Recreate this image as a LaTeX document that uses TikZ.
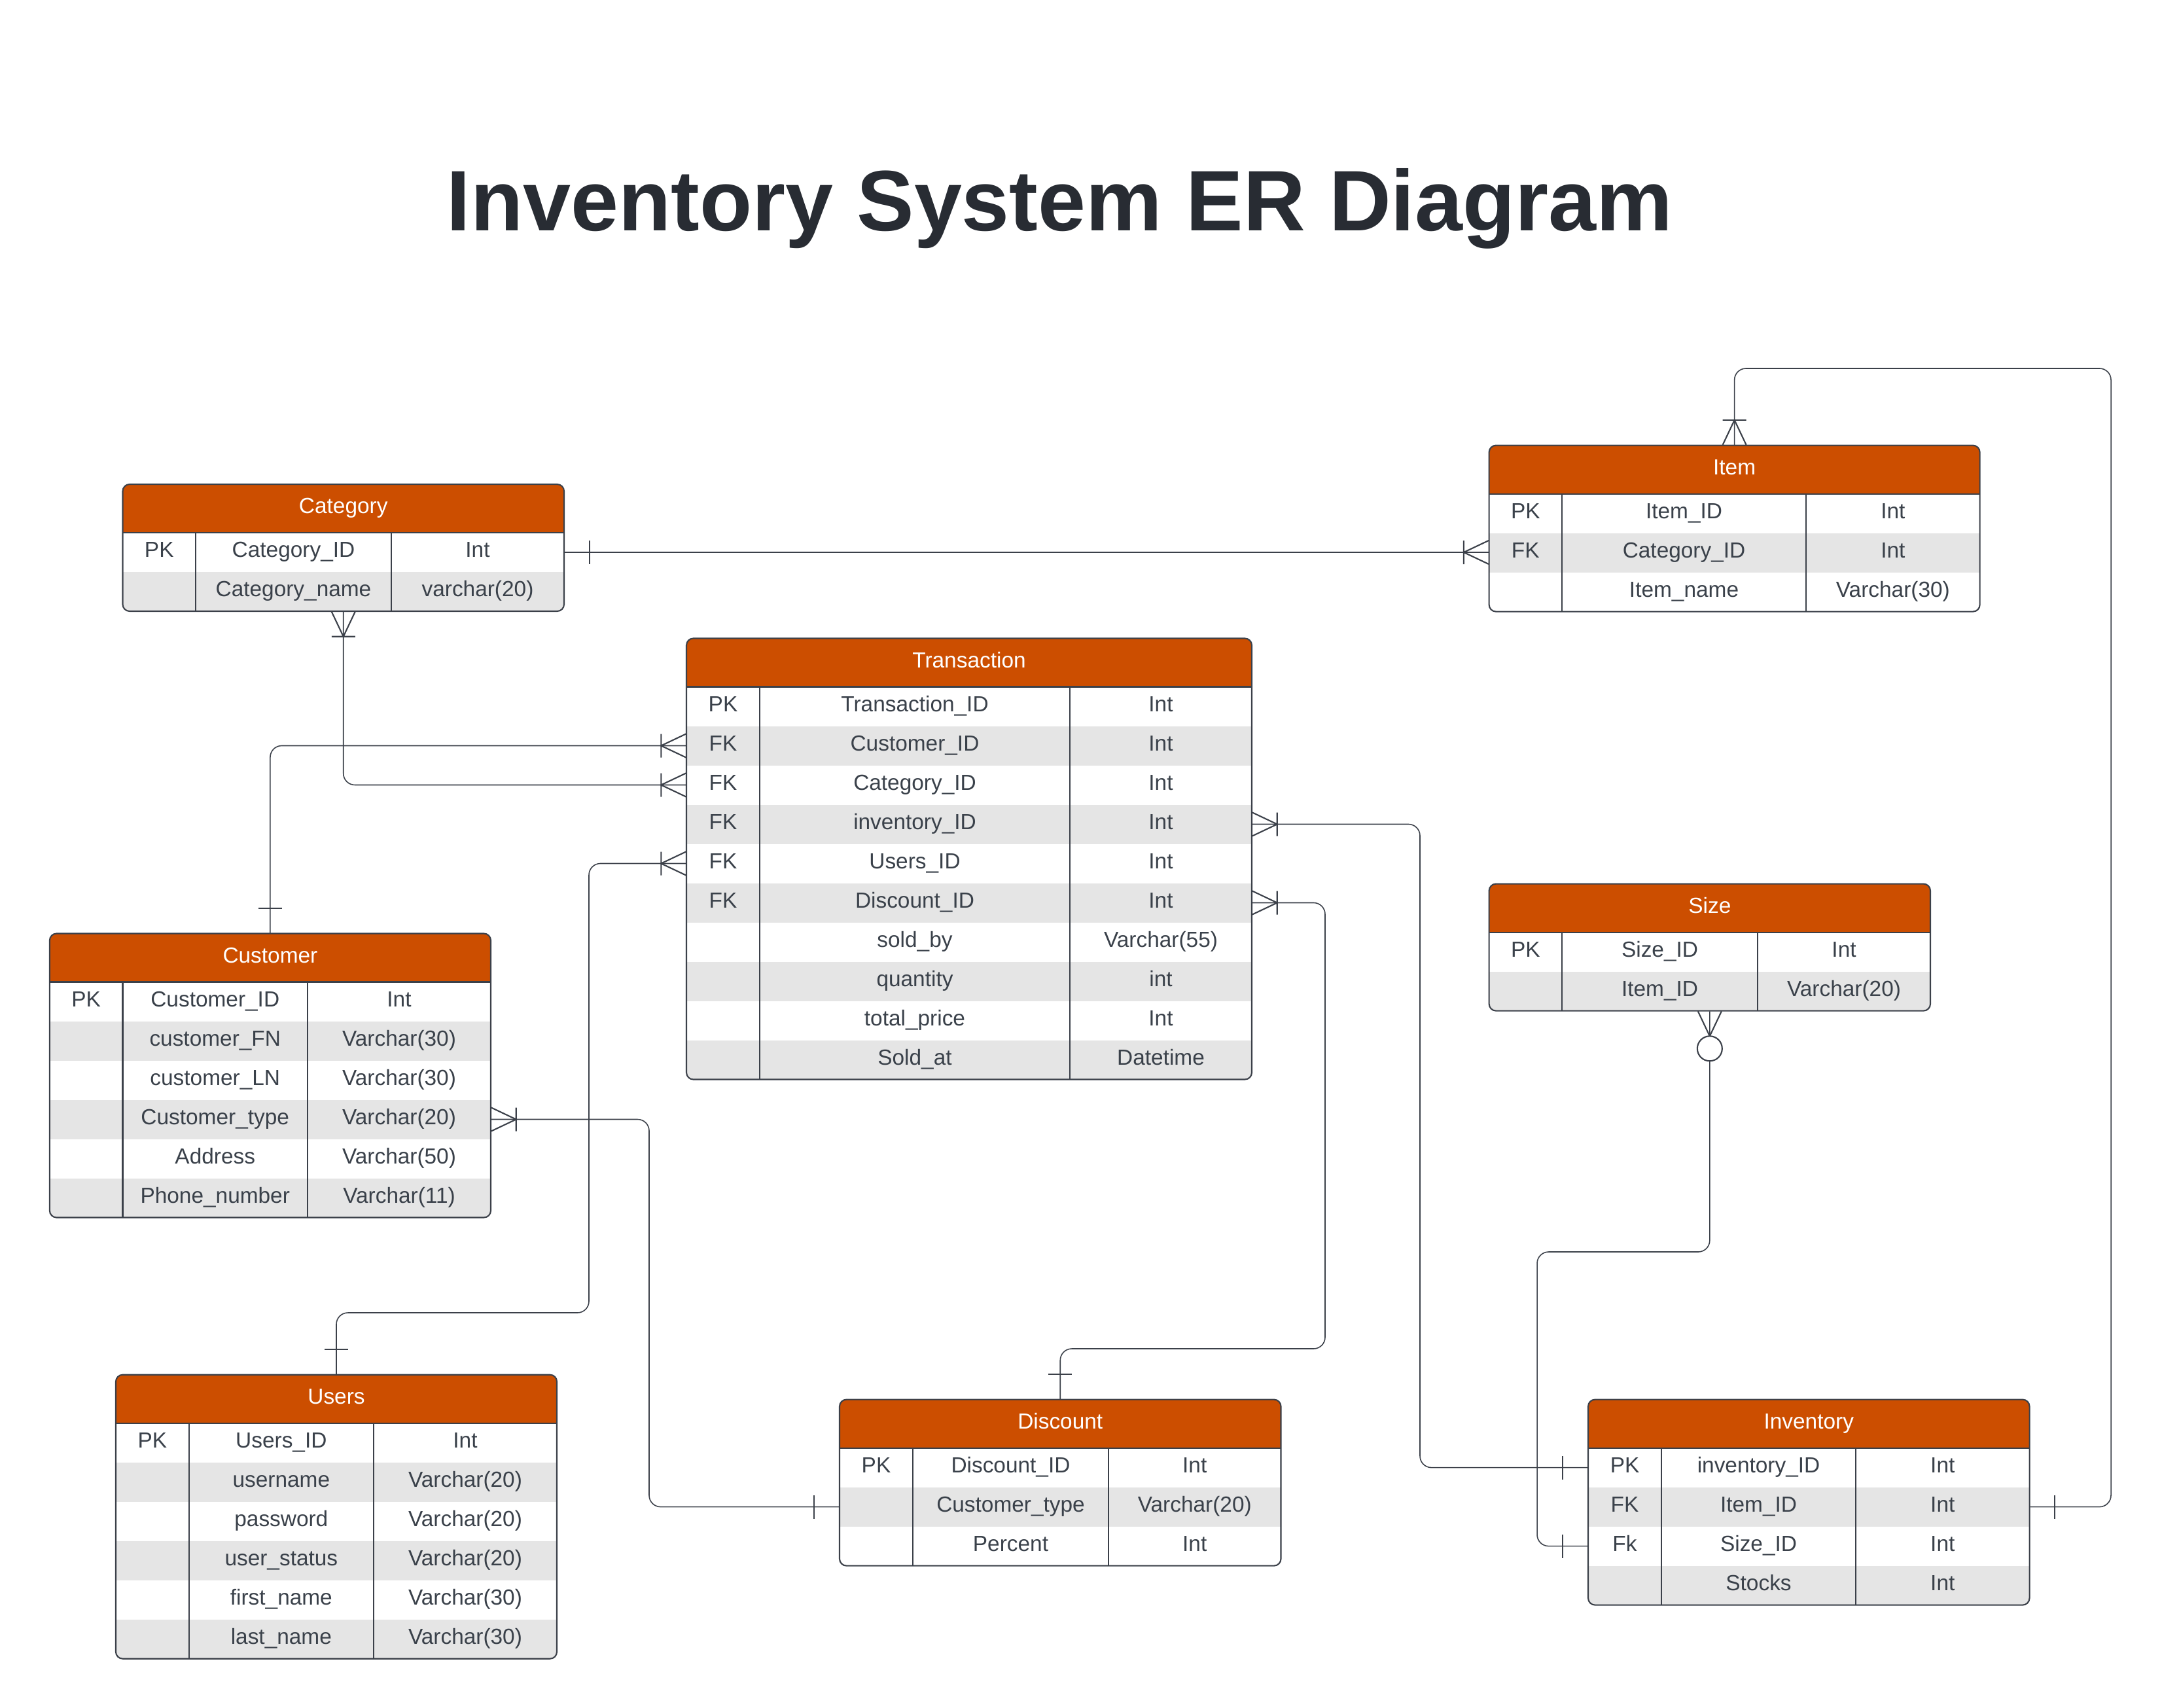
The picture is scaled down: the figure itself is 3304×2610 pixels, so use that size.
\documentclass[tikz,border=0pt]{standalone}
\usepackage{fontspec}
\setmainfont{Liberation Sans}
\usetikzlibrary{fit}

\definecolor{hdrorange}{HTML}{CC4E00}
\definecolor{rowgray}{HTML}{E5E5E5}
\definecolor{linegray}{HTML}{3B4049}
\definecolor{textgray}{HTML}{3A414A}
\definecolor{titlegray}{HTML}{282C33}

\tikzset{
  cell/.style={text=textgray, font=\fontsize{9.5}{11}\selectfont, text height=6.8pt, text depth=0pt, inner sep=0pt},
  hdrtext/.style={cell, text=white},
  tblline/.style={draw=linegray, line width=0.6pt},
  conn/.style={draw=linegray, line width=0.45pt, rounded corners=5pt},
  endmark/.style={draw=linegray, line width=0.6pt},
  onebar/.pic={\draw[endmark] (38,-18) -- (38,18);},
  onemany/.pic={\draw[endmark] (0,-18) -- (38,0) -- (0,18) (38,-18) -- (38,18);},
  zeromany/.pic={\draw[endmark] (0,-18) -- (38,0) -- (0,18);
    \draw[endmark, fill=white] (57,0) circle[radius=19];}
}

% name, column x (4), top y, number of rows, title, rows
\newcommand{\ertable}[9]{%
  \pgfmathsetmacro\ybot{#6+74+60*#7}
  \begin{scope}
    \clip[rounded corners=3pt] (#2,#6) rectangle (#5,\ybot);
    \fill[hdrorange] (#2,#6) rectangle ({#5},{#6+74});
    \foreach \pk/\fld/\typ [count=\i] in {#9} {
      \pgfmathsetmacro\ya{#6+74+60*(\i-1)}
      \ifodd\i\else \fill[rowgray] ({#2},\ya) rectangle ({#5},{\ya+60}); \fi
      \node[cell] (#1-k\i) at ({(#2+#3)/2},{\ya+26}) {\pk};
      \node[cell] (#1-f\i) at ({(#3+#4)/2},{\ya+26}) {\fld};
      \node[cell] (#1-t\i) at ({(#4+#5)/2},{\ya+26}) {\typ};
      \coordinate (#1-r\i) at ({(#2+#5)/2},{\ya+30});
    }
  \end{scope}
  \draw[tblline] ({#2},{#6+74}) -- ({#5},{#6+74});
  \draw[tblline] ({#3},{#6+74}) -- ({#3},\ybot) ({#4},{#6+74}) -- ({#4},\ybot);
  \draw[tblline, rounded corners=3pt] (#2,#6) rectangle (#5,\ybot);
  \node[hdrtext] (#1-title) at ({(#2+#5)/2},{#6+33}) {#8};
  \node[fit={(#2,#6) (#5,\ybot)}, inner sep=0pt] (#1) {};
}

\begin{document}
\begin{tikzpicture}[x=0.01cm, y=-0.01cm]
  \useasboundingbox (0,0) rectangle (3304,2610);
  \node[font=\fontsize{37.3}{41}\selectfont\bfseries, text=titlegray, anchor=base, inner sep=0pt] (title) at (1619.5,353) {Inventory System ER Diagram};

  \ertable{category}{187.5}{299}{598}{862}{740}{2}{Category}{PK/Category\_ID/Int, /Category\_name/varchar(20)}
  \ertable{item}{2275.6}{2387}{2760}{3025.6}{680.6}{3}{Item}{PK/Item\_ID/Int, FK/Category\_ID/Int, /Item\_name/Varchar(30)}
  \ertable{transaction}{1049}{1161}{1635}{1913}{975.5}{10}{Transaction}{PK/Transaction\_ID/Int, FK/Customer\_ID/Int, FK/Category\_ID/Int, FK/inventory\_ID/Int, FK/Users\_ID/Int, FK/Discount\_ID/Int, /sold\_by/Varchar(55), /quantity/int, /total\_price/Int, /Sold\_at/Datetime}
  \ertable{size}{2275.6}{2387}{2686}{2950}{1350.6}{2}{Size}{PK/Size\_ID/Int, /Item\_ID/Varchar(20)}
  \ertable{customer}{75.9}{187.5}{470}{750}{1426.5}{6}{Customer}{PK/Customer\_ID/Int, /customer\_FN/Varchar(30), /customer\_LN/Varchar(30), /Customer\_type/Varchar(20), /Address/Varchar(50), /Phone\_number/Varchar(11)}
  \ertable{users}{177}{288.7}{571}{851}{2100.7}{6}{Users}{PK/Users\_ID/Int, /username/Varchar(20), /password/Varchar(20), /user\_status/Varchar(20), /first\_name/Varchar(30), /last\_name/Varchar(30)}
  \ertable{discount}{1283}{1395}{1694}{1957.5}{2138.6}{3}{Discount}{PK/Discount\_ID/Int, /Customer\_type/Varchar(20), /Percent/Int}
  \ertable{inventory}{2427}{2539}{2836}{3101.5}{2138.6}{4}{Inventory}{PK/inventory\_ID/Int, FK/Item\_ID/Int, Fk/Size\_ID/Int, /Stocks/Int}

  \coordinate (usersjog) at (900,2006);
  \coordinate (invjog) at (2170,0);
  \coordinate (discjog) at (2025,2061);
  \coordinate (custjog) at (992,0);
  \coordinate (sizejog) at (2349,1913);
  \coordinate (itemjog) at (3226,563);

  \draw[conn] (category.east |- category-r1) -- (item.west |- category-r1);
  \draw[conn] (category.south) |- (transaction.west |- transaction-r3);
  \draw[conn] (customer.north) |- (transaction.west |- transaction-r2);
  \draw[conn] (users.north) |- (usersjog) |- (transaction.west |- transaction-r5);
  \draw[conn] (transaction.east |- transaction-r4) -| (invjog |- inventory-r1) -- (inventory.west |- inventory-r1);
  \draw[conn] (transaction.east |- transaction-r6) -| (discjog) -| (discount.north);
  \draw[conn] (customer.east |- customer-r4) -| (custjog |- discount-r2) -- (discount.west |- discount-r2);
  \draw[conn] (size.south) |- (sizejog) |- (inventory.west |- inventory-r3);
  \draw[conn] (item.north) |- (itemjog) |- (inventory.east |- inventory-r2);

  \pic at (category.east |- category-r1) {onebar};
  \pic[rotate=180] at (item.west |- category-r1) {onemany};
  \pic[rotate=-90] at (category.south) {onemany};
  \pic[rotate=180] at (transaction.west |- transaction-r3) {onemany};
  \pic[rotate=90] at (customer.north) {onebar};
  \pic[rotate=180] at (transaction.west |- transaction-r2) {onemany};
  \pic[rotate=90] at (users.north) {onebar};
  \pic[rotate=180] at (transaction.west |- transaction-r5) {onemany};
  \pic at (transaction.east |- transaction-r4) {onemany};
  \pic[rotate=180] at (inventory.west |- inventory-r1) {onebar};
  \pic at (transaction.east |- transaction-r6) {onemany};
  \pic[rotate=90] at (discount.north) {onebar};
  \pic at (customer.east |- customer-r4) {onemany};
  \pic[rotate=180] at (discount.west |- discount-r2) {onebar};
  \pic[rotate=-90] at (size.south) {zeromany};
  \pic[rotate=180] at (inventory.west |- inventory-r3) {onebar};
  \pic[rotate=90] at (item.north) {onemany};
  \pic at (inventory.east |- inventory-r2) {onebar};
\end{tikzpicture}
\end{document}
